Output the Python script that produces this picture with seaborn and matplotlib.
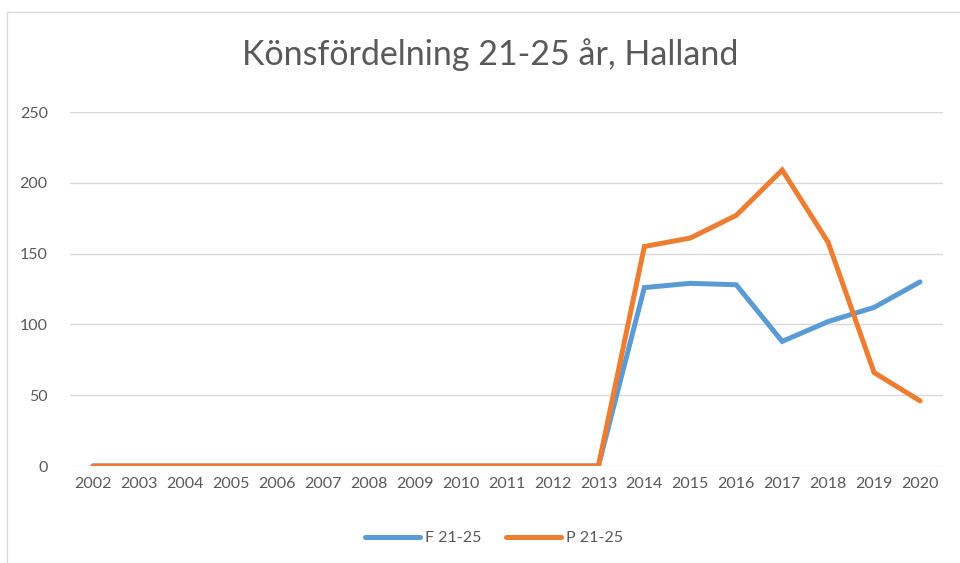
import matplotlib
matplotlib.use("Agg")
import matplotlib.pyplot as plt
import seaborn as sns
import pandas as pd
from matplotlib.patches import Rectangle
from matplotlib.lines import Line2D

years = list(range(2002, 2021))
f_vals = [0, 0, 0, 0, 0, 0, 0, 0, 0, 0, 0, 0, 126, 129, 128, 88, 102, 112, 130]
p_vals = [0, 0, 0, 0, 0, 0, 0, 0, 0, 0, 0, 0, 155, 161, 177, 209, 158, 66, 46]
series_names = ["F 21-25", "P 21-25"]
colors = ["#5B9BD5", "#ED7D31"]
yticks = [0, 50, 100, 150, 200, 250]
title = "Könsfördelning 21-25 år, Halland"

df = pd.DataFrame({
    "year": years * 2,
    "value": f_vals + p_vals,
    "series": [series_names[0]] * len(years) + [series_names[1]] * len(years),
})
df["pos"] = df["year"] - years[0]

sns.set_theme(style="white")
plt.rcParams["font.family"] = ["Lato", "DejaVu Sans"]

fig = plt.figure(figsize=(9.6, 5.63), dpi=100)
ax = fig.add_axes([70 / 960, 1 - 466 / 563, (943 - 70) / 960, (466 - 112) / 563])

# outer chart border
fig.patches.append(Rectangle((7 / 960, -0.05), 1.0, 1 - 12 / 563 + 0.05,
                             transform=fig.transFigure, fill=False,
                             edgecolor="#D9D9D9", linewidth=1.0))

sns.lineplot(data=df, x="pos", y="value", hue="series", palette=colors,
             linewidth=3.6, ax=ax, legend=False, solid_capstyle="round",
             solid_joinstyle="miter")

ax.set_xlim(-0.5, len(years) - 0.5)
ax.set_ylim(0, 250)
ax.set_yticks(yticks)
ax.set_yticklabels([str(t) for t in yticks])
ax.set_xticks(range(len(years)))
ax.set_xticklabels([str(y) for y in years])
ax.grid(axis="y", color="#D9D9D9", linewidth=1.0)
ax.set_axisbelow(True)
for s in ax.spines.values():
    s.set_visible(False)
ax.tick_params(axis="both", length=0, labelsize=11.5, colors="#595959", pad=8)
ax.tick_params(axis="y", pad=16)
ax.set_xlabel("")
ax.set_ylabel("")

fig.text(490 / 960, 1 - 55 / 563, title, ha="center", va="center",
         fontsize=24.5, color="#595959")

handles = [Line2D([0], [0], color=c, linewidth=3.6, solid_capstyle="round") for c in colors]
fig.legend(handles, series_names, loc="center", bbox_to_anchor=(494 / 960, 1 - 538 / 563),
           ncol=2, frameon=False, fontsize=11.5, labelcolor="#595959",
           handlelength=3.4, handletextpad=0.3, columnspacing=1.6)

fig.savefig("out.png", dpi=100)
